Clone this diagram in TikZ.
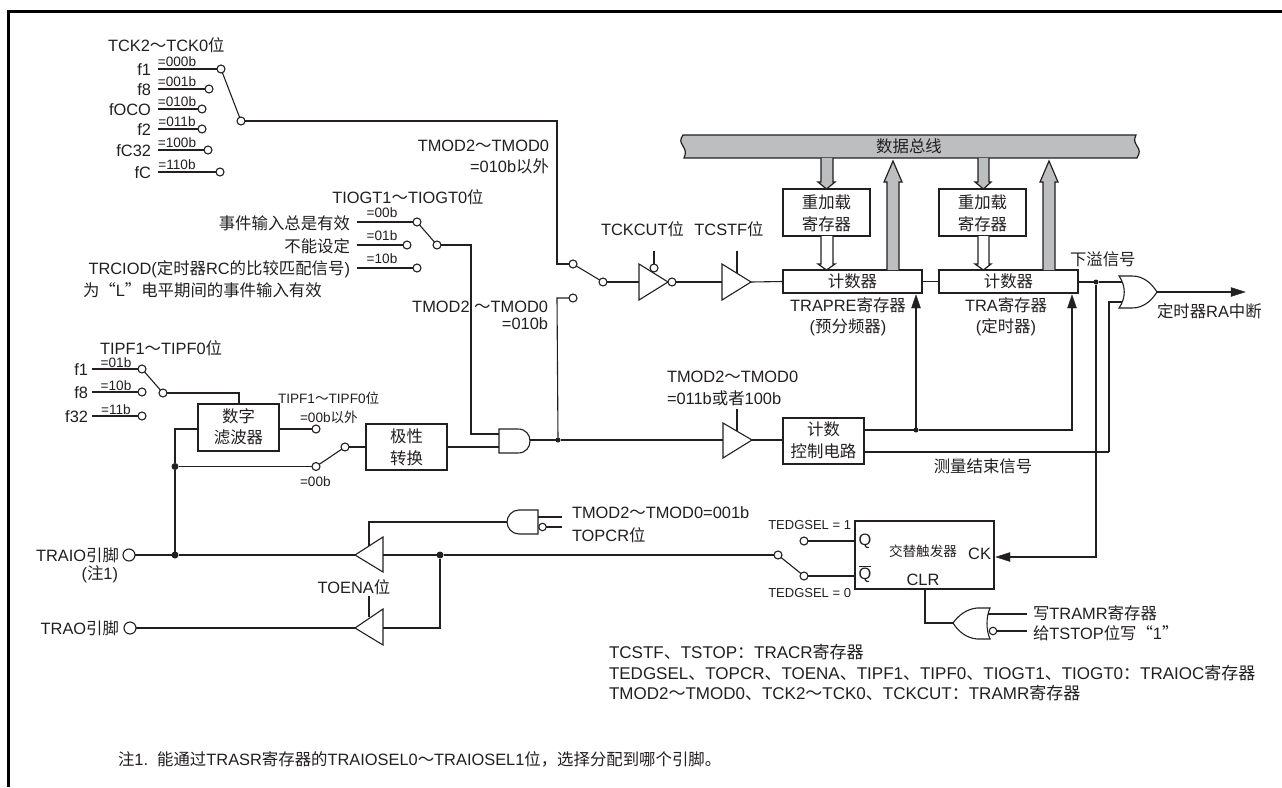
\documentclass[tikz,border=0pt]{standalone}
\usepackage{fontspec}
\setmainfont{Liberation Sans}
\newfontfamily\cjk{Noto Sans CJK SC}
\newcommand{\zh}[1]{{\cjk #1}}
\newcommand{\tl}{{\cjk ～}}
\definecolor{ink}{HTML}{231F20}
\definecolor{busgray}{HTML}{BCBEC0}
\tikzset{
  wire/.style={draw=ink,line width=1.1pt},
  txt/.style={inner sep=0pt,outer sep=0pt,text=ink,font=\fontsize{16.4}{18}\selectfont},
  legend/.style={inner sep=0pt,outer sep=0pt,text=ink,font=\fontsize{17}{19}\selectfont},
  sm/.style={inner sep=0pt,outer sep=0pt,text=ink,font=\fontsize{13.6}{15}\selectfont},
  tiny/.style={inner sep=0pt,outer sep=0pt,text=ink,font=\fontsize{13}{15}\selectfont},
  boxn/.style={draw=ink,line width=1.2pt,fill=white,inner sep=0pt,outer sep=0pt},
  term/.style={circle,draw=ink,line width=1.1pt,fill=white,minimum size=8pt,inner sep=0pt,outer sep=0pt},
  bigterm/.style={circle,draw=ink,line width=1.1pt,fill=white,minimum size=12pt,inner sep=0pt,outer sep=0pt},
  dotn/.style={circle,fill=ink,minimum size=7pt,inner sep=0pt,outer sep=0pt},
  gatepart/.style={draw=ink,line width=1.1pt,fill=white,line join=miter},
  solidtip/.style={draw=ink,fill=ink},
  fatgray/.style={draw=ink,line width=1.2pt,fill=busgray},
  fatwhite/.style={draw=ink,line width=1.2pt,fill=white}
}
\begin{document}
\begin{tikzpicture}[x=1pt,y=-1pt]
\useasboundingbox (0,0) rectangle (1282,787);
\fill[white] (0,0) rectangle (1282,787);
\draw[black,line width=3pt] (8.5,787) -- (8.5,11.5) -- (1282,11.5);
% ---- TCK selector
\node[txt,anchor=west] at (108,45) {TCK2\tl TCK0\zh{位}};
\foreach \n/\lab/\bits/\yy/\cx in {a1/f1/=000b/69/221,a2/f8/=001b/89/209,a3/fOCO/=010b/109/202,a4/f2/=011b/129/202,a5/fC32/=100b/150/208,a6/fC/=110b/172/220}{
  \node[term] (\n) at (\cx,\yy) {};
  \coordinate (\n s) at (158,\yy);
  \draw[wire] (\n s) -- (\n);
  \node[txt,anchor=east] at (151,\yy+1) {\lab};
  \node[sm,anchor=base] at (177,\yy-3) {\bits};
}
\node[term] (as) at (241,121) {};
\draw[wire] (a1) -- (as);
\coordinate (asc) at (557,121);
\coordinate (asd) at (557,264);
\node[term] (m1) at (573,264) {};
\draw[wire] (as) -- (asc) -- (asd) -- (m1);
\node[txt,anchor=east] at (549,146) {TMOD2\tl TMOD0};
\node[txt,anchor=east] at (549,166) {=010b\zh{以外}};
% ---- TIOGT selector
\node[txt,anchor=center] at (408,197) {TIOGT1\tl TIOGT0\zh{位}};
\foreach \n/\bits/\yy/\cx in {b1/=00b/222/417,b2/=01b/245/407,b3/=10b/268/417}{
  \node[term] (\n) at (\cx,\yy) {};
  \coordinate (\n s) at (357,\yy);
  \draw[wire] (\n s) -- (\n);
  \node[sm,anchor=base] at (382,\yy-5) {\bits};
}
\node[txt,anchor=east] at (350,223) {\zh{事件输入总是有效}};
\node[txt,anchor=east] at (350,246) {\zh{不能设定}};
\node[txt,anchor=east] at (350,269) {TRCIOD(\zh{定时器}RC\zh{的比较匹配信号})};
\node[txt,anchor=west] at (83,290) {\zh{为“}L\zh{”电平期间的事件输入有效}};
\node[term] (bs) at (437,245) {};
\draw[wire] (b1) -- (bs);
% ---- main AND
\coordinate (g1a) at (499,434);
\coordinate (g1b) at (499,447);
\coordinate (g1o) at (530,440);
\draw[wire] (bs) -- (471,245) -- (471,434) -- (g1a);
\draw[gatepart] (499,429) -- (518,429) .. controls (526,429) and (530,435) .. (530,441) .. controls (530,447) and (526,453) .. (518,453) -- (499,453) -- cycle;
\node[dotn,minimum size=5pt] (j1) at (558,440) {};
\draw[wire] (g1o) -- (j1);
\node[term] (m2) at (573,298) {};
\draw[wire] (j1) -- (557,298) -- (m2);
\node[txt,anchor=east] at (548,307) {TMOD2 \tl TMOD0};
\node[txt,anchor=east] at (548,324) {=010b};
% ---- TIPF selector
\node[txt,anchor=west] at (100,348) {TIPF1\tl TIPF0\zh{位}};
\foreach \n/\lab/\bits/\yy in {c1/f1/=01b/369,c2/f8/=10b/392,c3/f32/=11b/416}{
  \node[term] (\n) at (142,\yy) {};
  \coordinate (\n s) at (92,\yy);
  \draw[wire] (\n s) -- (\n);
  \node[txt,anchor=east] at (88,\yy+1) {\lab};
  \node[sm,anchor=base] at (116,\yy-2) {\bits};
}
\node[term] (cs) at (163,393) {};
\draw[wire] (c1) -- (cs);
\node[boxn,minimum width=81pt,minimum height=47pt,align=center] (filt) at (238.5,427.5) {};
\node[txt] at (238.5,416) {\zh{数字}};
\node[txt] at (238.5,437.5) {\zh{滤波器}};
\draw[wire] (cs) -- (239,393) -- (239,404);
\node[boxn,minimum width=81pt,minimum height=46pt] (pol) at (406.5,447) {};
\node[txt] at (406.5,436) {\zh{极性}};
\node[txt] at (406.5,458) {\zh{转换}};
\node[term] (d1) at (316,429) {};
\node[term] (d2) at (316,466.5) {};
\node[term] (d3) at (345,447) {};
\draw[wire] (279,429) -- (d1);
\draw[wire] (d2) -- (d3);
\draw[wire] (d3) -- (366,447);
\draw[wire] (447,447) -- (g1b);
\node[dotn] (j2) at (175,466.5) {};
\draw[wire] (j2) -- (d2);
\draw[wire] (198,429) -- (175,429) -- (j2);
\node[sm,anchor=west] at (278,398) {TIPF1\tl TIPF0\zh{位}};
\node[sm,anchor=west] at (300,417) {=00b\zh{以外}};
\node[sm,anchor=west] at (300,482) {=00b};
% ---- bus
\fill[busgray] (683,135) .. controls (680,140) and (680,141) .. (683,146) .. controls (686,151) and (686,153) .. (684,158) -- (1137,158) .. controls (1140,152) and (1140,151) .. (1137,146) .. controls (1134,141) and (1134,140) .. (1136,135) -- cycle;
\draw[ink,line width=1.2pt] (684,158) .. controls (686,153) and (686,151) .. (683,146) .. controls (680,141) and (680,140) .. (683,135) -- (1136,135) .. controls (1134,140) and (1134,141) .. (1137,146) .. controls (1140,151) and (1140,152) .. (1137,158) -- cycle;
\node[txt] at (909,146) {\zh{数据总线}};
% ---- registers
\node[boxn,minimum width=87pt,minimum height=47pt] (r1) at (826.5,212.5) {};
\node[txt] at (826.5,202) {\zh{重加载}};
\node[txt] at (826.5,224) {\zh{寄存器}};
\node[boxn,minimum width=87pt,minimum height=47pt] (r2) at (982.5,212.5) {};
\node[txt] at (982.5,202) {\zh{重加载}};
\node[txt] at (982.5,224) {\zh{寄存器}};
\node[boxn,minimum width=139pt,minimum height=23pt] (c1r) at (852.5,281.5) {};
\node[txt] at (852.5,281) {\zh{计数器}};
\node[boxn,minimum width=139pt,minimum height=23pt] (c2r) at (1008.5,281.5) {};
\node[txt] at (1008.5,281) {\zh{计数器}};
\draw[wire] (c1r) -- (c2r);
\node[txt] at (848,305) {TRAPRE\zh{寄存器}};
\node[txt] at (848,327) {(\zh{预分频器})};
\node[txt] at (1006,305) {TRA\zh{寄存器}};
\node[txt] at (1006,327) {(\zh{定时器})};
% fat arrows
\draw[fatgray] (821,158) -- (821,182) -- (818,182) -- (826.5,189) -- (835,182) -- (833,182) -- (833,158);
\draw[fatwhite] (821,236) -- (821,264) -- (818,264) -- (826.5,270) -- (835,264) -- (833,264) -- (833,236);
\draw[fatgray] (978,158) -- (978,182) -- (975,182) -- (983.5,189) -- (991,182) -- (989,182) -- (989,158);
\draw[fatwhite] (978,236) -- (978,264) -- (975,264) -- (983.5,270) -- (991,264) -- (989,264) -- (989,236);
\draw[fatgray] (887,270) -- (887,182) -- (884,182) -- (893,161) -- (902,182) -- (899,182) -- (899,270);
\draw[fatgray] (1043,270) -- (1043,182) -- (1040,182) -- (1049,161) -- (1058,182) -- (1055,182) -- (1055,270);
% ---- buffers in top path
\node[txt] at (642.5,229) {TCKCUT\zh{位}};
\node[txt] at (729,229) {TCSTF\zh{位}};
\node[term] (m3) at (603,282) {};
\draw[wire] (m1) -- (m3);
\draw[gatepart] (639,264) -- (668,282) -- (639,300) -- cycle;
\node[term] (n1) at (672,282) {};
\node[term] (n2) at (654,268) {};
\coordinate (n2t) at (654,251);
\draw[wire] (n2) -- (n2t);
\draw[wire] (m3) -- (639,282);
\draw[gatepart] (722,264) -- (751,282) -- (722,300) -- cycle;
\draw[wire] (n1) -- (722,282);
\draw[wire] (737,251) -- (737,273);
\draw[wire] (751,282) -- (c1r.west);
% ---- or gate
\draw[gatepart] (1119,276) -- (1132,276) .. controls (1144,276) and (1152,284) .. (1157,292) .. controls (1152,300) and (1144,308) .. (1132,308) -- (1119,308) .. controls (1126,298) and (1126,286) .. (1119,276) -- cycle;
\node[dotn,minimum size=5pt] (j3) at (1096,282) {};
\draw[wire] (c2r.east |- 282,282) -- (j3) -- (1122,282);
\draw[wire] (1109,452) -- (1109,302) -- (1122,302);
\coordinate (out) at (1245,292);
\draw[wire] (1157,292) -- (1232,292);
\draw[solidtip] (1245,292) -- (1231,287.5) -- (1231,296.5) -- cycle;
\node[txt,anchor=west] at (1157,311) {\zh{定时器}RA\zh{中断}};
\node[txt,anchor=west] at (1070,259) {\zh{下溢信号}};
% ---- count control
\node[txt,anchor=west] at (667,377) {TMOD2\tl TMOD0};
\node[txt,anchor=west] at (667,398) {=011b\zh{或者}100b};
\node[boxn,minimum width=81pt,minimum height=46pt] (ctl) at (823.5,441) {};
\node[txt] at (823.5,429) {\zh{计数}};
\node[txt] at (823.5,451) {\zh{控制电路}};
\draw[wire] (j1) -- (723,440);
\draw[gatepart] (723,423) -- (752,440) -- (723,458) -- cycle;
\draw[wire] (737,409) -- (737,431);
\draw[wire] (752,440) -- (783,440);
\node[dotn,minimum size=5pt] (j4) at (916,430) {};
\draw[wire] (864,430) -- (j4) -- (1072,430) -- (1072,306);
\draw[wire] (j4) -- (916,306);
\draw[solidtip] (916,295) -- (911.5,308) -- (920.5,308) -- cycle;
\draw[solidtip] (1072,295) -- (1067.5,308) -- (1076.5,308) -- cycle;
\draw[wire] (864,452) -- (1109,452);
\node[txt] at (983,466) {\zh{测量结束信号}};
% ---- toggle FF
\node[boxn,minimum width=139pt,minimum height=68pt] (ff) at (924.5,555) {};
\node[sm] at (923,551) {\zh{交替触发器}};
\node[txt,anchor=center] at (865,541) {Q};
\node[txt,anchor=center] at (865,574) {$\overline{\mbox{Q}}$};
\node[txt,anchor=east] at (991,554) {CK};
\node[txt] at (923,580) {CLR};
\node[term] (q1) at (804,541) {};
\node[term] (q2) at (804,576) {};
\node[term] (q3) at (778,555) {};
\draw[wire] (q1) -- (855,541);
\draw[wire] (q2) -- (855,576);
\draw[wire] (q3) -- (q2);
\node[tiny,anchor=east] at (851,525) {TEDGSEL = 1};
\node[tiny,anchor=east] at (851,593) {TEDGSEL = 0};
\draw[wire] (j3) -- (1096,557) -- (1010,557);
\draw[solidtip] (996,557) -- (1010,552.5) -- (1010,561.5) -- cycle;
% ---- output buffers
\draw[gatepart] (383,537) -- (355,555) -- (383,572) -- cycle;
\draw[gatepart] (383,609) -- (355,628) -- (383,645) -- cycle;
\node[bigterm] (p1) at (129,555) {};
\node[bigterm] (p2) at (130,628) {};
\node[dotn] (j5) at (175,555) {};
\node[dotn] (j6) at (440,555) {};
\draw[wire] (p1) -- (j5) -- (355,555);
\draw[wire] (j2) -- (j5);
\draw[wire] (383,555) -- (j6) -- (q3);
\draw[wire] (j6) -- (440,628) -- (383,628);
\draw[wire] (p2) -- (355,628);
\node[txt,anchor=east] at (119,555) {TRAIO\zh{引脚}};
\node[txt,anchor=east] at (118,574) {(\zh{注}1)};
\node[txt,anchor=east] at (119,628) {TRAO\zh{引脚}};
\node[txt,anchor=center] at (354,587) {TOENA\zh{位}};
\coordinate (t1) at (369,596);
\draw[wire] (t1) -- (369,617);
% AND gate flipped
\draw[gatepart] (538,510) -- (519,510) .. controls (512,510) and (507,516) .. (507,522) .. controls (507,528) and (512,534) .. (519,534) -- (538,534) -- cycle;
\node[term,minimum size=7.5pt] (g2b) at (542.5,527) {};
\draw[wire] (538,517) -- (562,517);
\draw[wire] (g2b) -- (562,527);
\draw[wire] (507,522) -- (369,522) -- (369,546);
\node[txt,anchor=west] at (572,513) {TMOD2\tl TMOD0=001b};
\node[txt,anchor=west] at (572,535) {TOPCR\zh{位}};
% NOR gate
\draw[gatepart] (990,608) -- (977,608) .. controls (966,609) and (958,616) .. (953,623) .. controls (958,631) and (966,638) .. (977,639) -- (990,639) .. controls (986,630) and (986,617) .. (990,608) -- cycle;
\node[term,minimum size=7.5pt] (g3b) at (993,631) {};
\draw[wire] (988,614) -- (1027,614);
\draw[wire] (g3b) -- (1027,631);
\draw[wire] (925,589) -- (925,623) -- (953,623);
\node[txt,anchor=west] at (1033,613) {\zh{写}TRAMR\zh{寄存器}};
\node[txt,anchor=west] at (1033,633) {\zh{给}TSTOP\zh{位写“}1\zh{”}};
% ---- bottom text
\node[legend,anchor=west] at (609,652) {TCSTF\zh{、}TSTOP\zh{：}TRACR\zh{寄存器}};
\node[legend,anchor=west] at (609,673) {TEDGSEL\zh{、}TOPCR\zh{、}TOENA\zh{、}TIPF1\zh{、}TIPF0\zh{、}TIOGT1\zh{、}TIOGT0\zh{：}TRAIOC\zh{寄存器}};
\node[legend,anchor=west] at (609,693) {TMOD2\tl TMOD0\zh{、}TCK2\tl TCK0\zh{、}TCKCUT\zh{：}TRAMR\zh{寄存器}};
\node[txt,anchor=west] at (118,759) {\zh{注}1.\ \ \zh{能通过}TRASR\zh{寄存器的}TRAIOSEL0\tl TRAIOSEL1\zh{位，选择分配到哪个引脚。}};
\end{tikzpicture}
\end{document}
